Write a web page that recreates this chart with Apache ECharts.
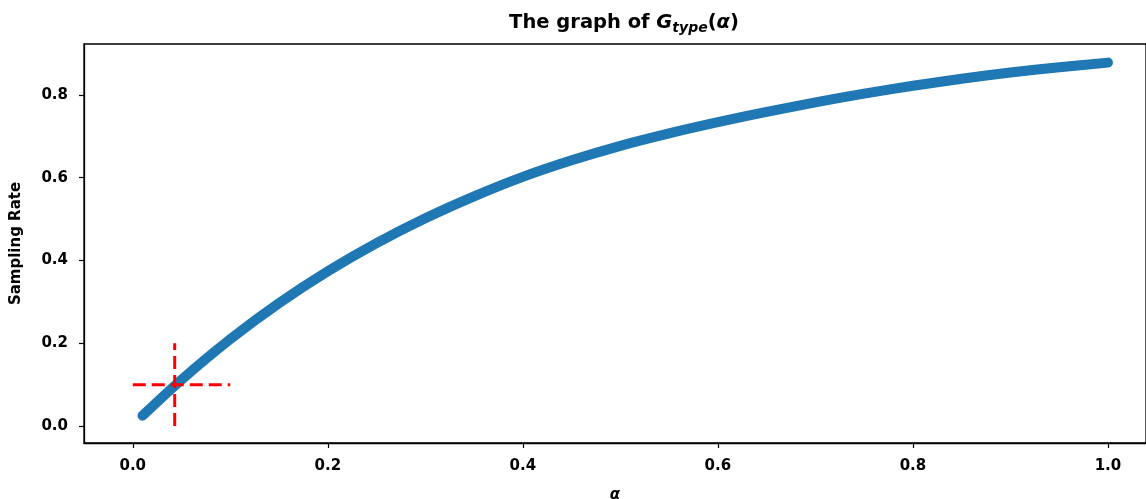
<!DOCTYPE html>
<html>
<head>
<meta charset="utf-8">
<script src="https://cdn.jsdelivr.net/npm/echarts@6/dist/echarts.min.js"></script>
<style>html,body{margin:0;padding:0;background:#fff;}#c{width:1146px;height:499px;}</style>
</head>
<body>
<div id="c"></div>
<script>
const alphaValues = [0.01,0.05,0.1,0.15,0.2,0.25,0.3,0.35,0.4,0.45,0.5,0.55,0.6,0.65,0.7,0.75,0.8,0.85,0.9,0.95,1.0];
const rateValues  = [0.025,0.112,0.21,0.297,0.374,0.442,0.502,0.555,0.602,0.642,0.677,0.707,0.734,0.759,0.782,0.803,0.822,0.839,0.854,0.867,0.878];
const refHX = [0, 0.1];
const refHY = [0.1, 0.1];
const refVX = [0.043, 0.043];
const refVY = [0, 0.2];
const xTicks = [0, 0.2, 0.4, 0.6, 0.8, 1.0];
const yTicks = [0, 0.2, 0.4, 0.6, 0.8];

const font = 'DejaVu Sans';
const chart = echarts.init(document.getElementById('c'), null, {renderer: 'canvas'});
chart.setOption({
  animation: false,
  backgroundColor: '#fff',
  title: {
    text: '{n|The graph of }{i|G}{s|type}{n|(}{i|α}{n|)}',
    left: 619, top: 6, textAlign: 'center',
    textStyle: {
      rich: {
        n: {fontFamily: font, fontWeight: 'bold', fontSize: 19.5, color: '#000'},
        i: {fontFamily: font, fontWeight: 'bold', fontStyle: 'italic', fontSize: 19.5, color: '#000'},
        s: {fontFamily: font, fontWeight: 'bold', fontStyle: 'italic', fontSize: 14, color: '#000', padding: [10, 0, 0, 0]}
      }
    }
  },
  grid: {left: 84, right: 0, top: 44, bottom: 56, show: true, borderColor: '#000', borderWidth: 1.3, backgroundColor: '#fff', outerBoundsMode: 'none', containLabel: false},
  xAxis: {
    type: 'value', min: -0.05, max: 1.039,
    name: 'α', nameLocation: 'middle', nameGap: 45,
    nameTextStyle: {fontFamily: font, fontWeight: 'bold', fontStyle: 'italic', fontSize: 15, color: '#000'},
    axisLine: {show: true, onZero: false, lineStyle: {color: '#000', width: 1.3}},
    axisTick: {show: true, length: 5, lineStyle: {color: '#000', width: 1.2}, customValues: xTicks},
    axisLabel: {customValues: xTicks, formatter: v => v.toFixed(1), fontFamily: font, fontWeight: 'bold', fontSize: 15, color: '#000', margin: 16},
    splitLine: {show: false}
  },
  yAxis: {
    type: 'value', min: -0.041, max: 0.923,
    name: 'Sampling Rate', nameLocation: 'middle', nameGap: 60,
    nameTextStyle: {fontFamily: font, fontWeight: 'bold', fontSize: 15, color: '#000'},
    axisLine: {show: true, onZero: false, lineStyle: {color: '#000', width: 1.3}},
    axisTick: {show: true, length: 5, lineStyle: {color: '#000', width: 1.2}, customValues: yTicks},
    axisLabel: {customValues: yTicks, formatter: v => v.toFixed(1), fontFamily: font, fontWeight: 'bold', fontSize: 15, color: '#000', margin: 16},
    splitLine: {show: false}
  },
  series: [
    {
      type: 'line', data: alphaValues.map((a, i) => [a, rateValues[i]]),
      showSymbol: false, smooth: 0.3,
      lineStyle: {color: '#1f77b4', width: 10, cap: 'round', join: 'round'},
      z: 2
    },
    {
      type: 'line', data: refHX.map((a, i) => [a, refHY[i]]),
      showSymbol: false,
      lineStyle: {color: '#ff0000', width: 3, type: [13, 6]},
      z: 3
    },
    {
      type: 'line', data: refVX.map((a, i) => [a, refVY[i]]),
      showSymbol: false,
      lineStyle: {color: '#ff0000', width: 3, type: [13, 6]},
      z: 3
    }
  ]
});
</script>
</body>
</html>
